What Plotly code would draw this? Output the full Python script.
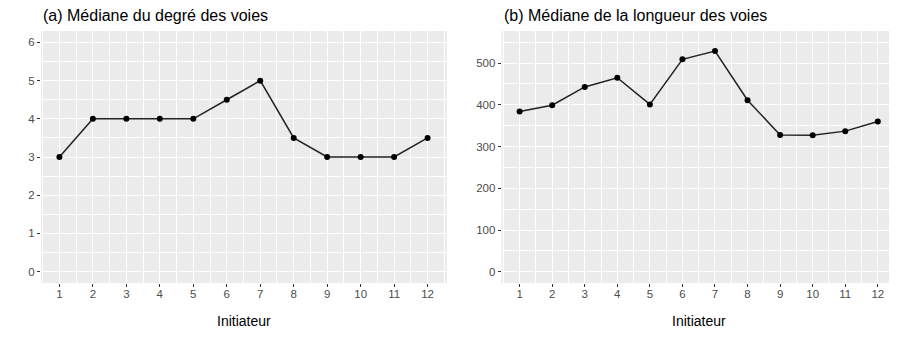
import plotly.graph_objects as go

# Data
initiateurs = [1, 2, 3, 4, 5, 6, 7, 8, 9, 10, 11, 12]
degre_median = [3, 4, 4, 4, 4, 4.5, 5, 3.5, 3, 3, 3, 3.5]
longueur_median = [384, 399, 443, 465, 401, 509, 529, 411, 328, 327, 337, 360]

# the page body has an 8px margin, so the figure is shifted and a bit smaller
OFF = 8
W, H = 897 - OFF, 340 - 2 * OFF
FONT = "Liberation Sans, Arial, Helvetica, sans-serif"
BG = "#EBEBEB"

# fixed margins so the panels land where they are in the reference
ML, MR, MT = 41 - OFF, 0, 31 - OFF
MB = H - (283 - OFF)
PW, PH = W - ML - MR, H - MT - MB
xa_dom = [0, (447 - 41) / PW]
xb_dom = [(501.7 - 41) / PW, min(1, (896.7 - 41) / PW)]

fig = go.Figure()

for data, xa, ya in [(degre_median, "x", "y"), (longueur_median, "x2", "y2")]:
    fig.add_trace(go.Scatter(
        x=initiateurs, y=data, xaxis=xa, yaxis=ya,
        mode="lines+markers",
        line=dict(color="#222222", width=1.5),
        marker=dict(color="black", size=6),
        showlegend=False, hoverinfo="skip", cliponaxis=False))

def xaxis_style(domain, anchor):
    return dict(
        domain=domain, anchor=anchor, range=[0.45, 12.58],
        tickmode="linear", tick0=1, dtick=1,
        showgrid=True, gridcolor="white", gridwidth=1.1,
        minor=dict(tick0=0.5, dtick=1, showgrid=True, gridcolor="white", gridwidth=0.5),
        zeroline=False, showline=False, automargin=False,
        ticks="outside", ticklen=3, tickcolor="#333333", tickwidth=1,
        ticklabelstandoff=-3,
        tickfont=dict(family=FONT, size=11.5, color="#4D4D4D"),
        fixedrange=True)

def yaxis_style(anchor, rng, dtick):
    return dict(
        domain=[0, 1], anchor=anchor, range=rng,
        tickmode="linear", tick0=0, dtick=dtick,
        showgrid=True, gridcolor="white", gridwidth=1.1,
        minor=dict(tick0=dtick / 2, dtick=dtick, showgrid=True, gridcolor="white", gridwidth=0.5),
        zeroline=False, showline=False, automargin=False,
        ticks="outside", ticklen=3, tickcolor="#333333", tickwidth=1,
        tickfont=dict(family=FONT, size=11.5, color="#4D4D4D"),
        fixedrange=True)

fig.update_layout(
    width=W, height=H,
    margin=dict(l=ML, r=MR, t=MT, b=MB),
    paper_bgcolor="white", plot_bgcolor=BG,
    font=dict(family=FONT, color="black"),
    xaxis=xaxis_style(xa_dom, "y"),
    yaxis=yaxis_style("x", [-0.3, 6.3], 1),
    xaxis2=xaxis_style(xb_dom, "y2"),
    yaxis2=yaxis_style("x2", [-27, 577], 100),
)

# second panel needs its own background
fig.add_shape(type="rect", xref="x2 domain", yref="y2 domain", x0=0, x1=1, y0=0, y1=1,
              fillcolor=BG, line_width=0, layer="below")

# panel titles
for text, xpos in [("(a) Médiane du degré des voies", xa_dom[0]),
                   ("(b) Médiane de la longueur des voies", xb_dom[0])]:
    fig.add_annotation(text=text, xref="paper", yref="paper",
                       x=xpos, y=1 + 16 / PH, xanchor="left", yanchor="middle",
                       showarrow=False, font=dict(family=FONT, size=16, color="black"))

# x axis titles
for dom in [xa_dom, xb_dom]:
    fig.add_annotation(text="Initiateur", xref="paper", yref="paper",
                       x=(dom[0] + dom[1]) / 2, y=-(321 - 283) / PH,
                       xanchor="center", yanchor="middle",
                       showarrow=False, font=dict(family=FONT, size=14, color="black"))

fig.write_html("out.html")
